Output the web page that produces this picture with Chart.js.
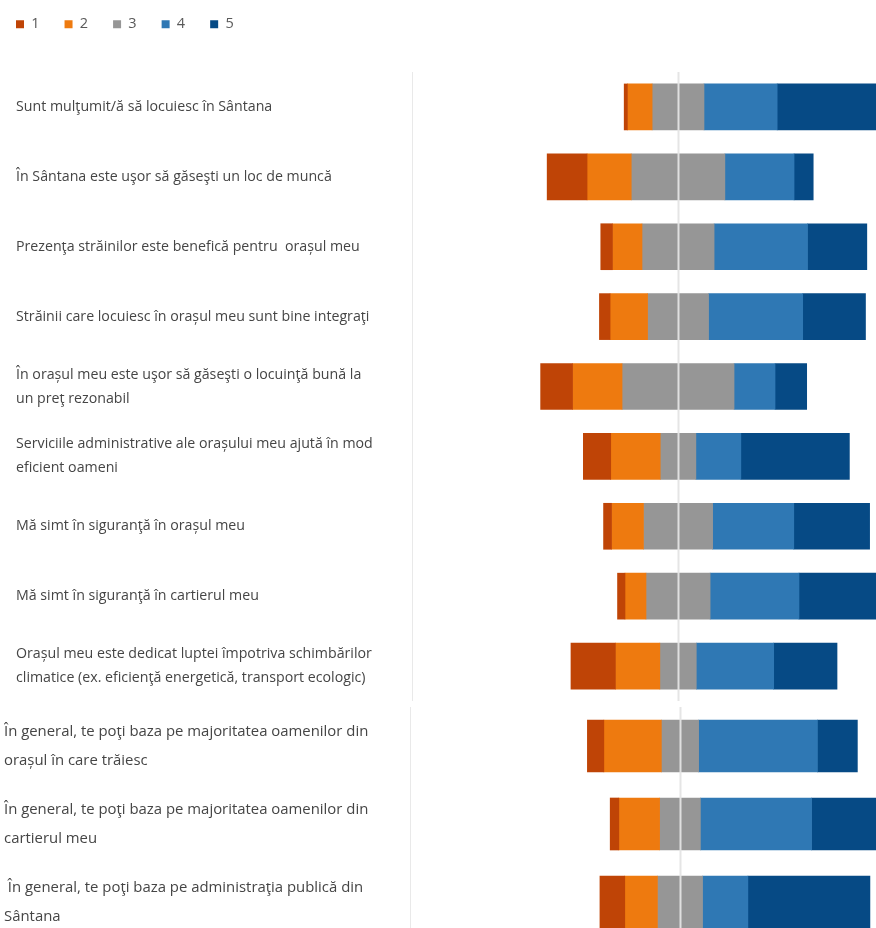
<!DOCTYPE html>
<html>
<head>
<meta charset="utf-8">
<script src="https://cdn.jsdelivr.net/npm/chart.js@4.4.1/dist/chart.umd.min.js"></script>
<style>
  html, body { margin: 0; padding: 0; background: #fff; }
  body { width: 876px; height: 928px; overflow: hidden; position: relative; }
  #top { position: absolute; left: 0; top: 0; }
  #bottom { position: absolute; left: 0; top: 707px; }
</style>
</head>
<body>
<canvas id="top" width="876" height="701"></canvas>
<canvas id="bottom" width="876" height="234"></canvas>
<script>
// întrebările (categorii)
const questions = [
  'Sunt mulţumit/ă să locuiesc în Sântana',
  'În Sântana este uşor să găseşti un loc de muncă',
  'Prezenţa străinilor este benefică pentru  orașul meu',
  'Străinii care locuiesc în orașul meu sunt bine integraţi',
  ['În orașul meu este uşor să găseşti o locuinţă bună la', 'un preţ rezonabil'],
  ['Serviciile administrative ale orașului meu ajută în mod', 'eficient oameni'],
  'Mă simt în siguranţă în orașul meu',
  'Mă simt în siguranţă în cartierul meu',
  ['Orașul meu este dedicat luptei împotriva schimbărilor', 'climatice (ex. eficienţă energetică, transport ecologic)'],
  ['În general, te poţi baza pe majoritatea oamenilor din', 'orașul în care trăiesc'],
  ['În general, te poţi baza pe majoritatea oamenilor din', 'cartierul meu'],
  [' În general, te poţi baza pe administraţia publică din', 'Sântana'],
]
const scaleNames = ['1', '2', '3', '4', '5']

// procente pe fiecare treaptă (1 = deloc ... 5 = total)
const s1 = [1.2, 15.0, 4.4, 4.0, 12.0, 10.3, 3.0, 2.8, 16.7, 6.1, 3.2, 9.2]
const s2 = [9.3, 16.6, 11.1, 14.1, 18.6, 18.6, 12.0, 7.9, 16.7, 21.3, 15.1, 12.1]
const s3 = [19.5, 35.2, 27.1, 22.9, 42.1, 13.4, 26.0, 24.1, 13.7, 13.8, 15.1, 16.7]
const s4 = [27.5, 26.0, 35.1, 35.4, 15.4, 16.9, 30.5, 33.4, 29.1, 44.0, 41.2, 16.8]
const s5 = [42.5, 7.2, 22.3, 23.6, 11.9, 40.8, 28.5, 31.8, 23.8, 14.8, 25.4, 45.2]

const colors = ['#BF4406', '#EE7A0F', '#969696', '#2F78B4', '#064A85']
const FONT = "'Open Sans', 'Noto Sans', sans-serif"

// bare flotante centrate pe mijlocul categoriei 3
function divergingData(from, to) {
  const sets = [[], [], [], [], []]
  for (let i = from; i < to; i++) {
    const left = -(s1[i] + s2[i] + s3[i] / 2)
    const b1 = left + s1[i]
    const b2 = b1 + s2[i]
    const b3 = b2 + s3[i]
    const b4 = b3 + s4[i]
    sets[0].push([left, b1])
    sets[1].push([b1, b2])
    sets[2].push([b2, b3])
    sets[3].push([b3, b4])
    sets[4].push([b4, b4 + s5[i]])
  }
  return sets.map((d, k) => ({
    label: scaleNames[k], data: d, backgroundColor: colors[k], borderWidth: 0, grouped: false,
  }))
}

const centerLine = {
  id: 'centerLine',
  afterDatasetsDraw(chart) {
    const { ctx, chartArea } = chart
    const x = Math.round(chart.scales.x.getPixelForValue(0)) + 0.5
    ctx.save()
    ctx.strokeStyle = 'rgba(228,228,228,0.95)'
    ctx.lineWidth = 2
    ctx.beginPath(); ctx.moveTo(x, chartArea.top); ctx.lineTo(x, chartArea.bottom); ctx.stroke()
    ctx.restore()
  },
}

// legenda: înălţime fixă și poziţionare ca în original
const legendPlacement = {
  id: 'legendPlacement',
  beforeInit(chart) {
    const lg = chart.legend
    if (!lg || !chart.options.plugins.legend.display) return
    const fit = lg.fit
    lg.fit = function () { fit.call(this); this.height = 72 }
  },
  afterLayout(chart) {
    if (!chart.legend || !chart.options.plugins.legend.display) return
    chart.legend.left -= 25
    chart.legend.top -= 8
  },
}

function makeChart(id, from, to, opts) {
  return new Chart(document.getElementById(id), {
    type: 'bar',
    data: { labels: questions.slice(from, to), datasets: divergingData(from, to) },
    options: {
      indexAxis: 'y', responsive: false, animation: false,
      barThickness: opts.bar,
      layout: { padding: { left: opts.padLeft, top: 0, right: 0, bottom: 0 } },
      scales: {
        x: { display: false, min: -100, max: opts.max },
        y: {
          grid: { display: false, drawTicks: false },
          border: { display: true, color: '#e9e9e9' },
          ticks: { crossAlign: 'far', padding: 0, color: '#454545',
            font: { family: FONT, size: opts.fontSize, lineHeight: opts.lineHeight } },
          afterFit: (s) => { s.width = opts.axisWidth; s.paddingTop = 0; s.paddingBottom = 0 },
        },
      },
      plugins: {
        tooltip: { enabled: false },
        legend: {
          display: opts.legend, position: 'top', align: 'start',
          labels: { boxWidth: 8, boxHeight: 8, padding: 25, color: '#595959', font: { family: FONT, size: 14.5 } },
        },
      },
    },
    plugins: [centerLine, legendPlacement],
  })
}

makeChart('top', 0, 9, { bar: 46, padLeft: 16, axisWidth: 396, max: 74.4, fontSize: 14.2, lineHeight: 24 / 14.2, legend: true })
makeChart('bottom', 9, 12, { bar: 52, padLeft: 4, axisWidth: 406, max: 72.6, fontSize: 14.9, lineHeight: 29 / 14.9, legend: false })
</script>
</body>
</html>
